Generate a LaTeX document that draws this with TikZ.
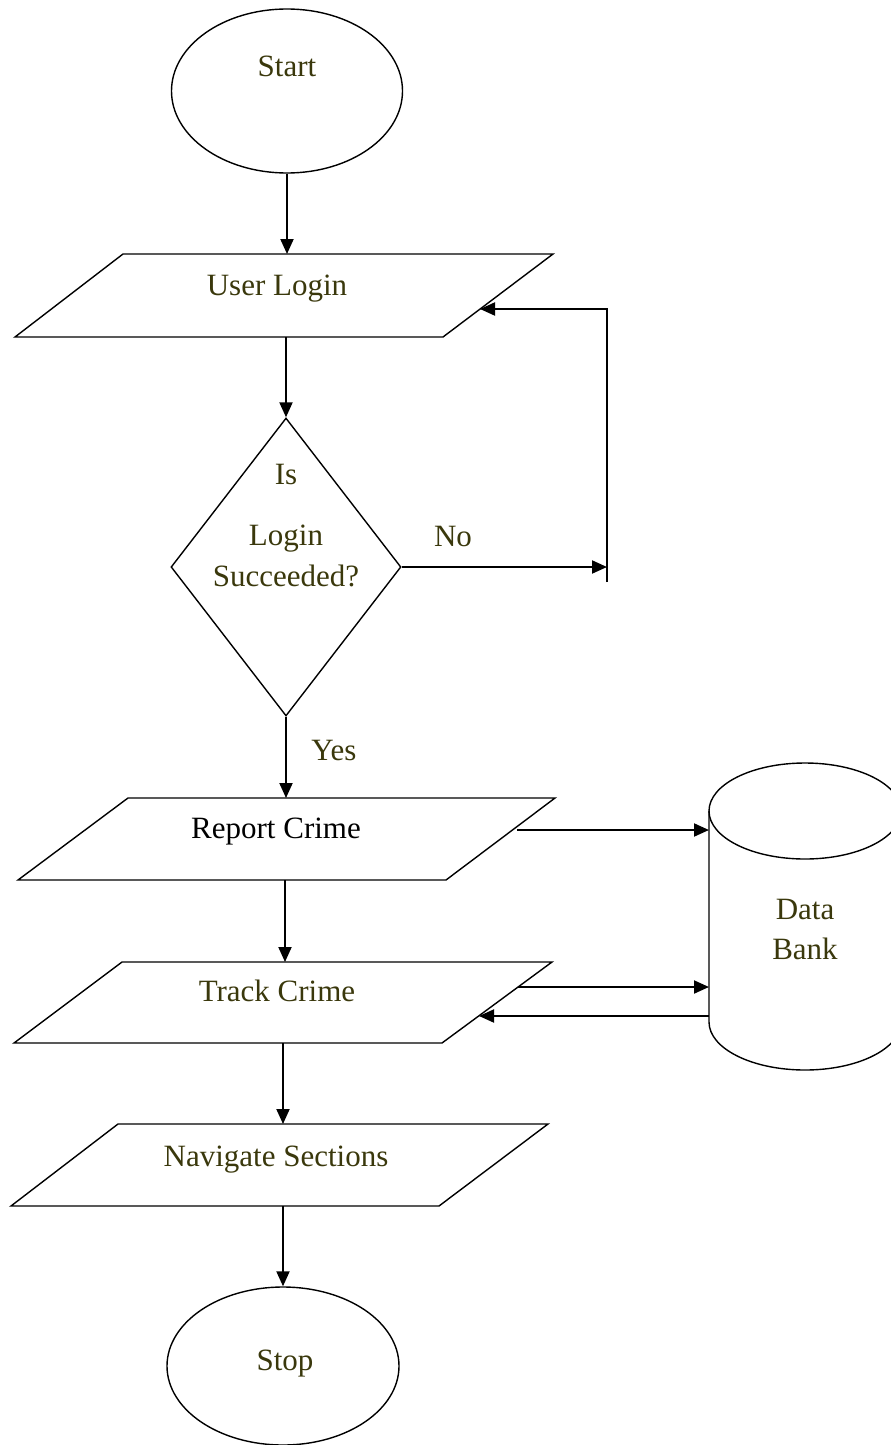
\documentclass[tikz,border=0pt]{standalone}
\usepackage{fontspec}
\setmainfont{Liberation Serif}
\usetikzlibrary{arrows.meta,shapes.geometric}
\definecolor{txtolive}{RGB}{58,56,12}
\begin{document}
\begin{tikzpicture}[x=1pt,y=-1pt,
  shp/.style={draw=black,line width=1.4pt},
  conn/.style={line width=2pt,line join=miter,-{Triangle[length=15pt,width=13pt]}},
  lbl/.style={font=\fontsize{31}{36}\selectfont, text=txtolive, anchor=base, inner sep=0pt},
]
\useasboundingbox (0,0) rectangle (891,1445);

% Start
\node[shp, ellipse, minimum width=231pt, minimum height=164pt, inner sep=0pt] (start) at (287,91) {};
\node[lbl] (tstart) at (287,77) {Start};

% User Login
\draw[shp] (123,254) -- (553,254) -- (443,337) -- (15,337) -- cycle;
\coordinate (loginN) at (287,254);
\coordinate (loginS) at (286,337);
\coordinate (loginE) at (480,309);
\node[lbl] (tlogin) at (277,295) {User Login};

% Decision
\node[shp, diamond, minimum width=230pt, minimum height=298pt, inner sep=0pt] (dec) at (286,567) {};
\node[lbl] (tis) at (286,484) {Is};
\node[lbl] (tlg) at (286,545) {Login};
\node[lbl] (tsuc) at (286,586) {Succeeded?};
\node[lbl] (tno) at (453,546) {No};
\node[lbl] (tyes) at (334,760) {Yes};

% feedback path
\coordinate (fbB) at (607,567);
\coordinate (fbT) at (607,309);
\coordinate (fbEnd) at (607,582);

% Report Crime
\draw[shp] (128,798) -- (555,798) -- (446,880) -- (18,880) -- cycle;
\coordinate (repN) at (286,798);
\coordinate (repS) at (285,880);
\coordinate (repE) at (517,830);
\node[lbl, text=black] (trep) at (276,838) {Report Crime};

% Track Crime
\draw[shp] (122,962) -- (552,962) -- (442,1043) -- (14,1043) -- cycle;
\coordinate (trkN) at (285,962);
\coordinate (trkS) at (283,1043);
\coordinate (trkE1) at (518,987);
\coordinate (trkE2) at (479,1016);
\node[lbl] (ttrk) at (277,1001) {Track Crime};

% Navigate Sections
\draw[shp] (118,1124) -- (548,1124) -- (439,1206) -- (11,1206) -- cycle;
\coordinate (navN) at (283,1124);
\coordinate (navS) at (283,1206);
\node[lbl] (tnav) at (276,1166) {Navigate Sections};

% Stop
\node[shp, ellipse, minimum width=232pt, minimum height=158pt, inner sep=0pt] (stop) at (283,1366) {};
\node[lbl] (tstop) at (285,1370) {Stop};

% Data Bank
\draw[shp] (709,811) -- (709,1022) arc[start angle=180, end angle=360, x radius=96pt, y radius=48pt] -- (901,811);
\draw[shp] (805,811) ellipse [x radius=96pt, y radius=48pt];
\coordinate (dbIn1) at (709,830);
\coordinate (dbIn2) at (709,987);
\coordinate (dbOut) at (709,1016);
\node[lbl] (tdata) at (805,919) {Data};
\node[lbl] (tbank) at (805,959) {Bank};

% connectors
\draw[conn] (start.south) -- (loginN);
\draw[conn] (loginS) -- (dec.north);
\draw[conn] (dec.east) -- (fbB);
\draw[conn] (fbEnd) -- (fbT) -- (loginE);
\draw[conn] (dec.south) -- (repN);
\draw[conn] (repE) -- (dbIn1);
\draw[conn] (repS) -- (trkN);
\draw[conn] (trkE1) -- (dbIn2);
\draw[conn] (dbOut) -- (trkE2);
\draw[conn] (trkS) -- (navN);
\draw[conn] (navS) -- (stop.north);
\end{tikzpicture}
\end{document}
